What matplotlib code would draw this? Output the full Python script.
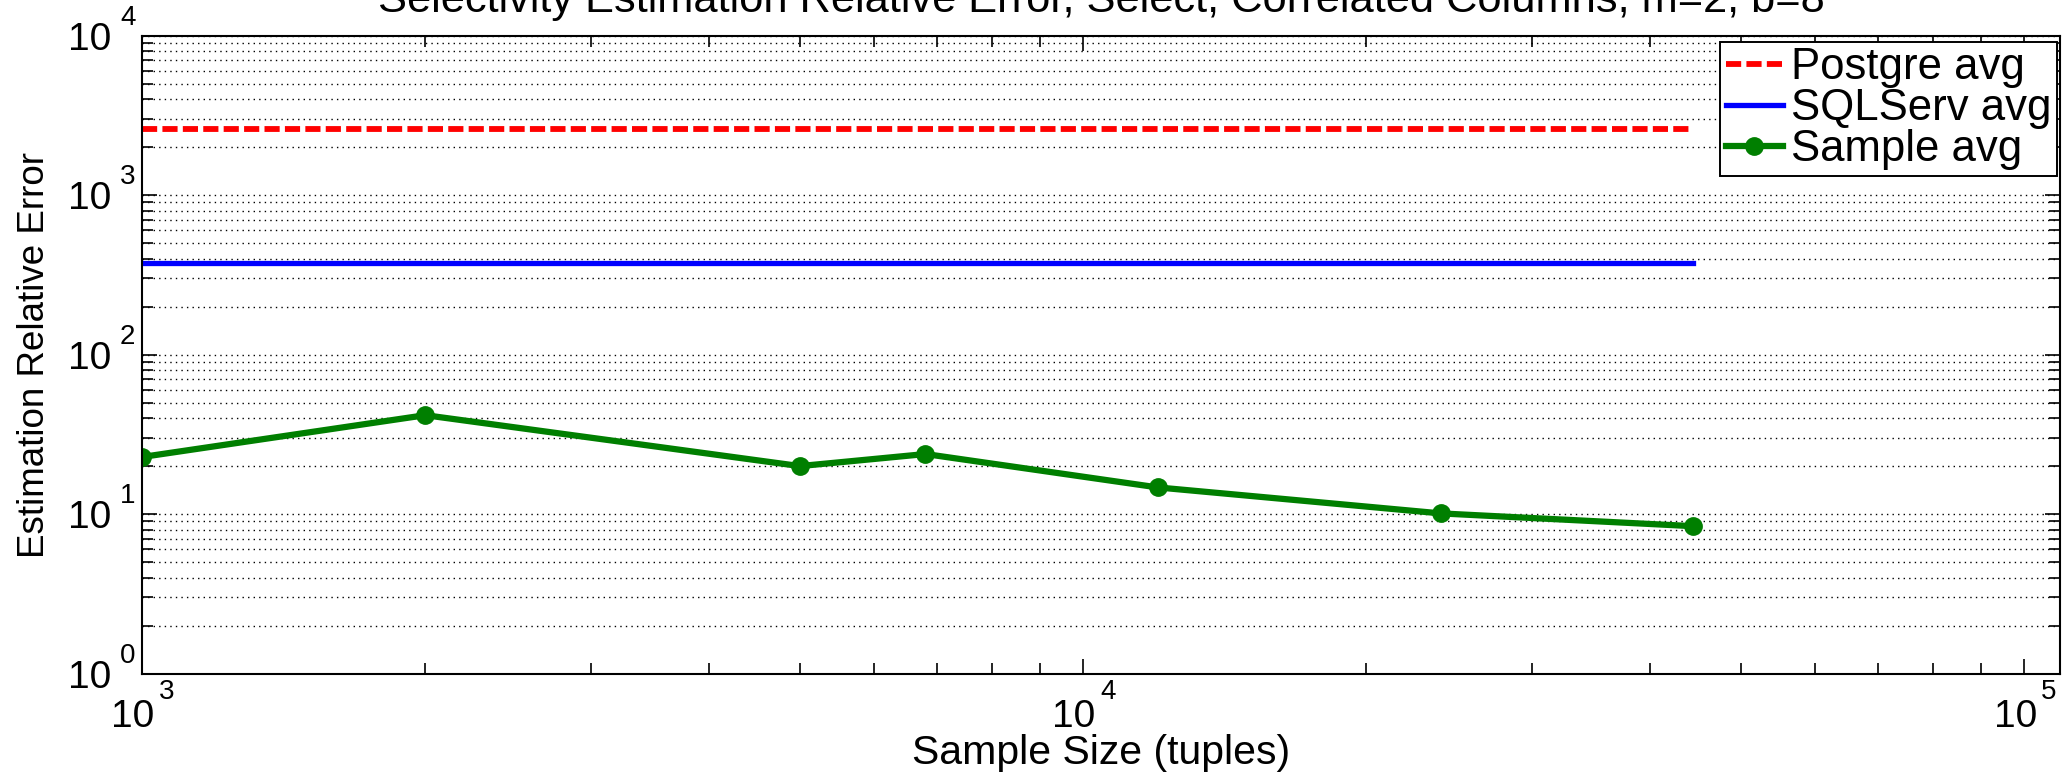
import math
import matplotlib
matplotlib.use("Agg")
import matplotlib.pyplot as plt
from matplotlib.ticker import LogLocator, FuncFormatter, NullFormatter
from matplotlib.transforms import ScaledTranslation

plt.rcParams['font.family'] = ['Liberation Sans', 'DejaVu Sans']

# Data
sample_sizes = [1000, 2000, 5000, 6800, 12000, 24000, 44500]
sample_avg = [22.8, 41.7, 20.0, 23.8, 14.7, 10.1, 8.4]
postgre_avg = [2600, 2600]
sqlserv_avg = [375, 375]
avg_x = [1000, 44500]

title = "Selectivity Estimation Relative Error, Select, Correlated Columns, m=2, b=8"

W, H = 2067, 772
fig = plt.figure(figsize=(W / 100, H / 100), dpi=100)
ax_l, ax_r, ax_t, ax_b = 142, 2060, 35.6, 673.6
ax = fig.add_axes([ax_l / W, 1 - ax_b / H, (ax_r - ax_l) / W, (ax_b - ax_t) / H])

ax.plot(avg_x, postgre_avg, color='#ff0000', linestyle=(0, (2.6, 0.9)), linewidth=4.2, label='Postgre avg')
ax.plot(avg_x, sqlserv_avg, color='#0000ff', linestyle='-', linewidth=3.8, label='SQLServ avg')
ax.plot(sample_sizes, sample_avg, color='#007f00', linestyle='-', linewidth=4.5,
        marker='o', markersize=12.5, label='Sample avg')

ax.set_xscale('log')
ax.set_yscale('log')
ax.set_xlim(1000, 10**5.038)
ax.set_ylim(1, 10**4)

ax.xaxis.set_major_locator(LogLocator(base=10, numticks=10))
ax.xaxis.set_minor_locator(LogLocator(base=10, subs=range(2, 10), numticks=20))
ax.yaxis.set_major_locator(LogLocator(base=10, numticks=10))
ax.yaxis.set_minor_locator(LogLocator(base=10, subs=range(2, 10), numticks=20))
base_fmt = FuncFormatter(lambda v, p: '10')
ax.xaxis.set_major_formatter(base_fmt)
ax.yaxis.set_major_formatter(base_fmt)
ax.xaxis.set_minor_formatter(NullFormatter())
ax.yaxis.set_minor_formatter(NullFormatter())

ax.tick_params(which='both', direction='in', top=True, right=True, width=1.2, colors='black')
ax.tick_params(which='major', length=11)
ax.tick_params(which='minor', length=8)
ax.tick_params(axis='x', which='major', labelsize=28, pad=18)
ax.tick_params(axis='y', which='major', labelsize=28, pad=22)

# shift "10" on x so that "10^n" as a whole is centred on the tick
for lab in ax.xaxis.get_majorticklabels():
    lab.set_transform(lab.get_transform() + ScaledTranslation(-9 / 100, 0, fig.dpi_scale_trans))

# exponents
exp_size = 20
xlo, xhi = ax.get_xlim()
for v in ax.xaxis.get_major_locator().tick_values(xlo, xhi):
    if xlo * 0.999 <= v <= xhi * 1.001:
        ax.annotate(str(int(round(math.log10(v)))), xy=(v, 0), xycoords=ax.get_xaxis_transform(),
                    xytext=(17, -25.5), textcoords='offset pixels', ha='left', va='baseline',
                    fontsize=exp_size, annotation_clip=False)
ylo, yhi = ax.get_ylim()
for v in ax.yaxis.get_major_locator().tick_values(ylo, yhi):
    if ylo * 0.999 <= v <= yhi * 1.001:
        ax.annotate(str(int(round(math.log10(v)))), xy=(0, v), xycoords=ax.get_yaxis_transform(),
                    xytext=(-22, 11), textcoords='offset pixels', ha='left', va='baseline',
                    fontsize=exp_size, annotation_clip=False)

ax.yaxis.grid(True, which='both', linestyle=(0, (1, 3)), color='black', linewidth=1.0)
ax.xaxis.grid(False)
for s in ax.spines.values():
    s.set_linewidth(1.5)

ax.set_xlabel('Sample Size (tuples)', fontsize=29.5)
ax.xaxis.label.set_va('baseline')
ax.xaxis.set_label_coords(0.5, (ax_b - 764) / (ax_b - ax_t))
ax.set_ylabel('Estimation Relative Error', fontsize=26.5)
ax.yaxis.set_label_coords((52 - ax_l) / (ax_r - ax_l), 0.5)

fig.text(0.5 * (ax_l + ax_r) / W, 1 - 12 / H, title, fontsize=31.2, ha='center', va='baseline')

leg = ax.legend(loc='upper right', bbox_to_anchor=((2057 - ax_l) / (ax_r - ax_l), (ax_b - 42) / (ax_b - ax_t)),
                borderaxespad=0, fontsize=31.5, handlelength=1.3, handletextpad=0.2,
                labelspacing=0.0, borderpad=0.12, fancybox=False, framealpha=1, edgecolor='black')
leg.get_frame().set_linewidth(1.4)

fig.savefig('out.png', dpi=100)
